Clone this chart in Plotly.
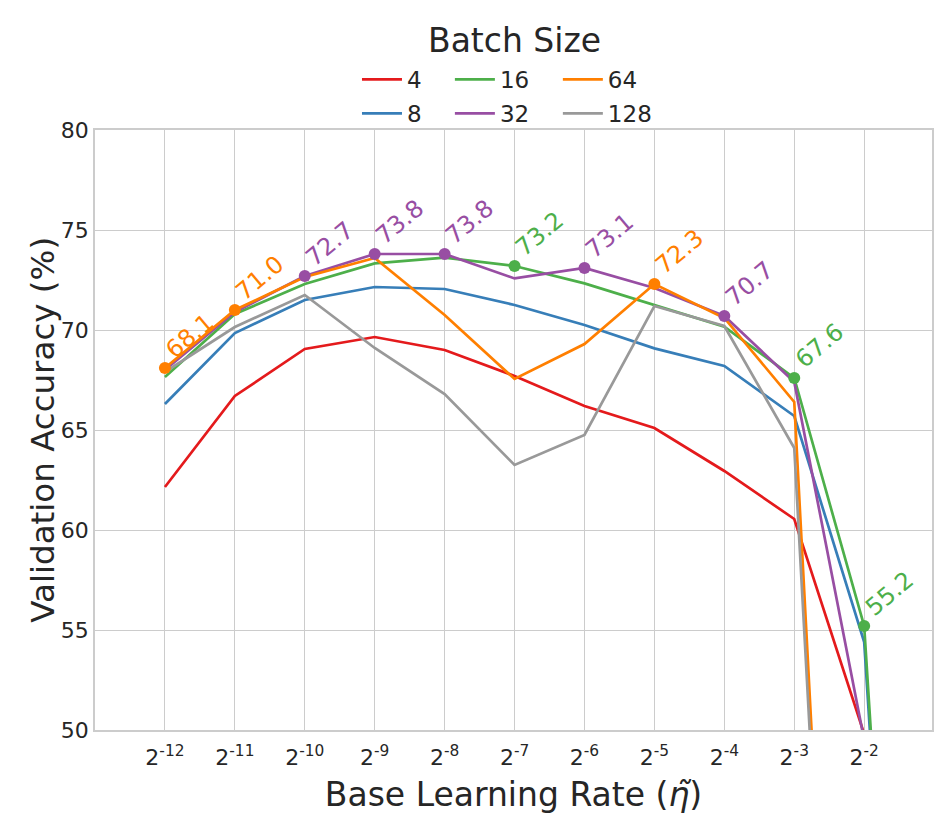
import plotly.graph_objects as go

# exponents of base learning rate (2^e)
exponents = [-12, -11, -10, -9, -8, -7, -6, -5, -4, -3, -2, -1]
tick_exponents = [-12, -11, -10, -9, -8, -7, -6, -5, -4, -3, -2]
tick_labels = ["2<sup>%d</sup>" % e for e in tick_exponents]

batch_sizes = ["4", "8", "16", "32", "64", "128"]
acc_4 = [62.15, 66.7, 69.05, 69.65, 69.0, 67.7, 66.2, 65.1, 62.95, 60.55, 49.8, 0.1]
acc_8 = [66.3, 69.85, 71.5, 72.15, 72.05, 71.25, 70.25, 69.08, 68.2, 65.7, 54.4, 0.1]
acc_16 = [67.65, 70.8, 72.3, 73.33, 73.62, 73.2, 72.33, 71.25, 70.17, 67.6, 55.2, 0.1]
acc_32 = [68.0, 70.9, 72.7, 73.8, 73.8, 72.58, 73.1, 72.1, 70.7, 67.4, 49.5, 0.1]
acc_64 = [68.1, 71.0, 72.65, 73.6, 70.75, 67.55, 69.3, 72.3, 70.6, 66.4, 0.1]
acc_128 = [67.9, 70.15, 71.75, 69.1, 66.8, 63.25, 64.75, 71.2, 70.2, 64.1, 0.1]
series = [acc_4, acc_8, acc_16, acc_32, acc_64, acc_128]
colors = ["#e41a1c", "#377eb8", "#4daf4a", "#984ea3", "#ff7f00", "#999999"]

FONT = "DejaVu Sans"
TXT = "#262626"

fig = go.Figure()

legend_of = ["legend", "legend", "legend2", "legend2", "legend3", "legend3"]
for name, vals, col, lg in zip(batch_sizes, series, colors, legend_of):
    fig.add_trace(go.Scatter(
        x=exponents[:len(vals)], y=vals, mode="lines", name=name,
        line=dict(color=col, width=2.7), legend=lg, legendgroup=name,
    ))

# best per learning rate (marker + rotated label)
best_x, best_y, best_c = [], [], []
for i, e in enumerate(tick_exponents):
    best = None
    for vals, col in zip(series, colors):
        if i < len(vals) and (best is None or vals[i] > best[0]):
            best = (vals[i], col)
    best_x.append(e)
    best_y.append(best[0])
    best_c.append(best[1])

fig.add_trace(go.Scatter(
    x=best_x, y=best_y, mode="markers", showlegend=False,
    marker=dict(color=best_c, size=12), cliponaxis=False,
))
for xv, yv, c in zip(best_x, best_y, best_c):
    fig.add_annotation(
        x=xv, y=yv, text="%.1f" % yv, showarrow=False,
        textangle=-40, xshift=25, yshift=32,
        font=dict(family=FONT, size=24, color=c),
    )

# legend title
fig.add_annotation(
    x=0.5006, y=1.15, xref="paper", yref="paper", text="Batch Size",
    showarrow=False, xanchor="center", yanchor="middle",
    font=dict(family=FONT, size=33, color=TXT),
)
# y-axis title
fig.add_annotation(
    x=-0.0625, y=0.5, xref="paper", yref="paper", text="Validation Accuracy (%)",
    showarrow=False, xanchor="center", yanchor="middle", textangle=-90,
    font=dict(family=FONT, size=32.5, color=TXT),
)

leg_common = dict(
    orientation="v", yanchor="top", xanchor="left", y=1.12,
    font=dict(family=FONT, size=23, color=TXT), bgcolor="rgba(0,0,0,0)",
    tracegroupgap=1, itemwidth=40,
)
fig.update_layout(
    legend=dict(x=0.313, **leg_common),
    legend2=dict(x=0.424, **leg_common),
    legend3=dict(x=0.553, **leg_common),
)

fig.update_xaxes(
    range=[-13, -1.03], tickvals=tick_exponents, ticktext=tick_labels,
    showgrid=True, gridcolor="#cccccc", gridwidth=1,
    showline=True, linecolor="#cccccc", linewidth=1.5, mirror=True,
    zeroline=False, ticks="", ticklabelstandoff=7,
    tickfont=dict(family=FONT, size=22, color=TXT),
    title=dict(text="Base Learning Rate (<i>η̃</i>)", font=dict(family=FONT, size=33, color=TXT), standoff=14),
)
fig.update_yaxes(
    range=[50, 80], tickvals=[50, 55, 60, 65, 70, 75, 80],
    showgrid=True, gridcolor="#cccccc", gridwidth=1,
    showline=True, linecolor="#cccccc", linewidth=1.5, mirror=True,
    zeroline=False, ticks="",
    tickfont=dict(family=FONT, size=22, color=TXT),
)

fig.update_layout(
    width=947, height=831,
    margin=dict(l=87, r=23, t=122, b=109, autoexpand=False),
    plot_bgcolor="white", paper_bgcolor="white",
    font=dict(family=FONT, color=TXT),
)

fig.write_html("out.html")
